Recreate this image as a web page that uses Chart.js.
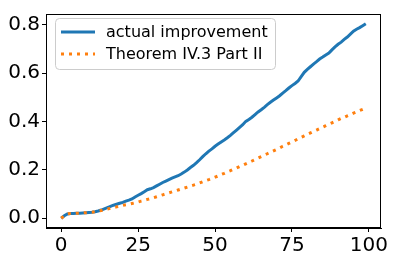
<!DOCTYPE html>
<html>
<head>
<meta charset="utf-8">
<script src="https://cdn.jsdelivr.net/npm/chart.js@4/dist/chart.umd.min.js"></script>
<style>
html,body{margin:0;padding:0;background:#fff;}
#wrap{width:395px;height:261px;}
</style>
</head>
<body>
<div id="wrap"><canvas id="c" width="395" height="261"></canvas></div>
<script>
const steps = Array.from({length:100}, (_, i) => i);
const actualImprovement = [
0.000,0.010,0.018,0.020,0.020,0.021,0.021,0.022,0.023,0.024,
0.025,0.027,0.030,0.034,0.039,0.044,0.049,0.054,0.058,0.062,
0.066,0.071,0.075,0.080,0.088,0.095,0.102,0.110,0.118,0.122,
0.127,0.134,0.141,0.148,0.154,0.160,0.166,0.171,0.176,0.183,
0.191,0.200,0.210,0.219,0.230,0.242,0.255,0.267,0.278,0.287,
0.298,0.307,0.316,0.324,0.333,0.343,0.354,0.365,0.376,0.387,
0.401,0.409,0.418,0.429,0.440,0.449,0.459,0.470,0.480,0.489,
0.498,0.507,0.518,0.528,0.539,0.549,0.558,0.568,0.586,0.604,
0.616,0.627,0.638,0.648,0.659,0.667,0.676,0.684,0.697,0.709,
0.720,0.729,0.740,0.750,0.762,0.774,0.782,0.789,0.797,0.805];
const theoremBound = [
0.000,0.010,0.018,0.020,0.020,0.021,0.021,0.022,0.023,0.024,
0.025,0.027,0.029,0.032,0.035,0.038,0.041,0.044,0.047,0.050,
0.053,0.056,0.058,0.061,0.064,0.067,0.071,0.074,0.078,0.081,
0.085,0.089,0.093,0.097,0.101,0.105,0.109,0.113,0.117,0.121,
0.125,0.129,0.133,0.137,0.141,0.146,0.151,0.156,0.160,0.165,
0.170,0.175,0.181,0.186,0.192,0.197,0.203,0.208,0.214,0.219,
0.225,0.231,0.237,0.243,0.249,0.255,0.261,0.267,0.273,0.279,
0.285,0.291,0.298,0.304,0.310,0.316,0.322,0.329,0.335,0.341,
0.347,0.353,0.359,0.365,0.371,0.377,0.383,0.389,0.395,0.401,
0.407,0.413,0.418,0.424,0.429,0.435,0.440,0.446,0.451,0.457];
const xTicks = [0, 25, 50, 75, 100];
const yTicks = [0.0, 0.2, 0.4, 0.6, 0.8];
const seriesNames = ['actual improvement', 'Theorem IV.3 Part II'];
const seriesColors = ['#1f77b4', '#ff7f0e'];

const FONT = "'DejaVu Sans', sans-serif";

const framePlugin = {
  id: 'frame',
  afterDraw(chart) {
    const ctx = chart.ctx, a = chart.chartArea;
    ctx.save();
    ctx.strokeStyle = '#000';
    ctx.lineWidth = 1;
    ctx.strokeRect(Math.round(a.left) + 0.5, Math.round(a.top) + 0.5,
                   Math.round(a.right - a.left) - 1, Math.round(a.bottom - a.top) - 1);
    // legend
    const lx = 55.5, ly = 18.5, lw = 220, lh = 51, r = 4;
    ctx.beginPath();
    ctx.moveTo(lx + r, ly);
    ctx.lineTo(lx + lw - r, ly);
    ctx.quadraticCurveTo(lx + lw, ly, lx + lw, ly + r);
    ctx.lineTo(lx + lw, ly + lh - r);
    ctx.quadraticCurveTo(lx + lw, ly + lh, lx + lw - r, ly + lh);
    ctx.lineTo(lx + r, ly + lh);
    ctx.quadraticCurveTo(lx, ly + lh, lx, ly + lh - r);
    ctx.lineTo(lx, ly + r);
    ctx.quadraticCurveTo(lx, ly, lx + r, ly);
    ctx.closePath();
    ctx.fillStyle = 'rgba(255,255,255,0.8)';
    ctx.fill();
    ctx.strokeStyle = '#cccccc';
    ctx.lineWidth = 1;
    ctx.stroke();
    const rows = [32, 54];
    chart.data.datasets.forEach((ds, i) => {
      ctx.beginPath();
      ctx.strokeStyle = ds.borderColor;
      ctx.lineWidth = 3;
      ctx.lineCap = 'butt';
      ctx.setLineDash(ds.borderDash || []);
      ctx.moveTo(61, rows[i]);
      ctx.lineTo(95, rows[i]);
      ctx.stroke();
      ctx.setLineDash([]);
      ctx.fillStyle = '#000';
      ctx.font = '16px ' + FONT;
      ctx.textBaseline = 'middle';
      ctx.textAlign = 'left';
      ctx.fillText(ds.label, 106, rows[i] + 1);
    });
    ctx.restore();
  }
};

new Chart(document.getElementById('c'), {
  type: 'line',
  data: {
    datasets: [
      {
        label: seriesNames[0],
        data: steps.map((x, i) => ({x: x, y: actualImprovement[i]})),
        borderColor: seriesColors[0],
        borderWidth: 3,
        pointRadius: 0,
        tension: 0,
        fill: false,
        order: 1
      },
      {
        label: seriesNames[1],
        data: steps.map((x, i) => ({x: x, y: theoremBound[i]})),
        borderColor: seriesColors[1],
        borderWidth: 3,
        borderDash: [3, 5],
        borderCapStyle: 'butt',
        pointRadius: 0,
        tension: 0,
        fill: false,
        order: 0
      }
    ]
  },
  options: {
    responsive: false,
    animation: false,
    devicePixelRatio: 1,
    layout: {padding: {left: 0, right: 14, top: 10, bottom: 0}},
    plugins: {legend: {display: false}, tooltip: {enabled: false}},
    scales: {
      x: {
        type: 'linear',
        min: -4.95,
        max: 103.95,
        afterBuildTicks: s => { s.ticks = xTicks.map(v => ({value: v})); },
        afterFit: s => { s.height = 33; },
        grid: {drawOnChartArea: false, drawTicks: true, tickLength: 4, color: '#000'},
        border: {display: true, color: '#000'},
        ticks: {color: '#000', font: {family: FONT, size: 20}, padding: 2, maxRotation: 0,
                callback: v => String(v)}
      },
      y: {
        type: 'linear',
        min: -0.0403,
        max: 0.8453,
        afterBuildTicks: s => { s.ticks = yTicks.map(v => ({value: v})); },
        afterFit: s => { s.width = 46; },
        grid: {drawOnChartArea: false, drawTicks: true, tickLength: 4, color: '#000'},
        border: {display: true, color: '#000'},
        ticks: {color: '#000', font: {family: FONT, size: 20}, padding: 2,
                callback: v => Number(v).toFixed(1)}
      }
    }
  },
  plugins: [framePlugin]
});
</script>
</body>
</html>
